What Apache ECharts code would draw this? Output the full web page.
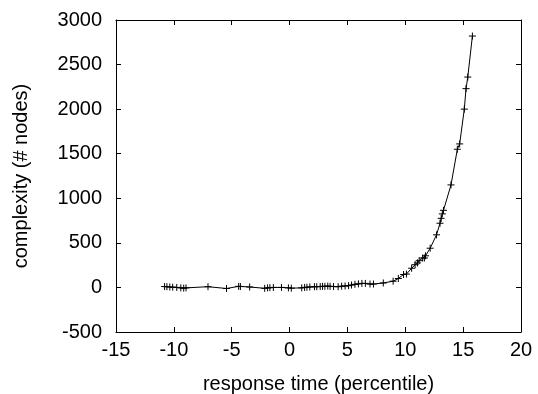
<!DOCTYPE html>
<html><head><meta charset="utf-8">
<script src="https://cdn.jsdelivr.net/npm/echarts@6/dist/echarts.min.js"></script>
<style>html,body{margin:0;padding:0;background:#fff}#c{width:538px;height:394px}</style>
</head><body><div id="c"></div>
<script>
const xValues = [-10.8,-10.6,-10.35,-10.1,-9.75,-9.4,-9.15,-8.95,-7.05,-5.45,-4.4,-4.25,-3.45,-2.15,-1.9,-1.7,-1.4,-0.7,-0.1,0.15,1.05,1.3,1.5,1.75,2.15,2.35,2.65,2.85,3.05,3.3,3.5,3.8,4.2,4.5,4.8,5.1,5.35,5.65,5.95,6.25,6.55,6.95,7.25,8.1,8.95,9.4,9.85,10.1,10.55,10.85,11.05,11.2,11.5,11.65,11.75,12.15,12.7,13.0,13.1,13.2,13.3,13.95,14.5,14.7,15.1,15.25,15.4,15.8];
const yValues = [10,8,5,3,0,-5,-8,-5,8,-12,12,10,5,-10,-5,-3,0,0,-5,-8,-5,0,2,5,8,8,10,12,12,15,12,10,8,14,16,20,27,35,40,45,45,38,38,50,70,100,145,150,215,255,275,300,330,330,355,440,590,720,775,825,865,1150,1550,1610,2000,2230,2360,2820];
const xTicks = {min:-15, max:20, interval:5};
const yTicks = {min:-500, max:3000, interval:500};
const xName = 'response time (percentile)';
const yName = 'complexity (# nodes)';

const points = xValues.map((x,i)=>[x,yValues[i]]);
const font = 'Liberation Sans, Arial, sans-serif';
const fs = 20;
const plain = v => String(v);
const common = {axisLine:{show:true,onZero:false,lineStyle:{color:'#000',width:1}},axisTick:{show:true,inside:true,length:5,lineStyle:{color:'#000'}},splitLine:{show:false}};
const chart = echarts.init(document.getElementById('c'));
chart.setOption({
  animation:false,
  backgroundColor:'#fff',
  grid:{left:116,right:17,top:20,bottom:62,show:false,containLabel:false,outerBoundsMode:'none'},
  xAxis:[
    Object.assign({type:'value',position:'bottom',min:xTicks.min,max:xTicks.max,interval:xTicks.interval,
      name:xName,nameLocation:'middle',nameGap:42,nameTextStyle:{fontFamily:font,fontSize:fs,color:'#000'},
      axisLabel:{fontFamily:font,fontSize:fs,color:'#000',margin:8,formatter:plain}},common),
    Object.assign({type:'value',position:'top',min:xTicks.min,max:xTicks.max,interval:xTicks.interval,axisLabel:{show:false}},common)
  ],
  yAxis:[
    Object.assign({type:'value',position:'left',min:yTicks.min,max:yTicks.max,interval:yTicks.interval,
      name:yName,nameLocation:'middle',nameGap:85,nameTextStyle:{fontFamily:font,fontSize:fs,color:'#000'},
      axisLabel:{fontFamily:font,fontSize:fs,color:'#000',margin:14,formatter:plain}},common),
    Object.assign({type:'value',position:'right',min:yTicks.min,max:yTicks.max,interval:yTicks.interval,axisLabel:{show:false}},common)
  ],
  series:[{
    type:'line',data:points,xAxisIndex:0,yAxisIndex:0,
    lineStyle:{color:'#000',width:1},
    symbol:'path://M0,5L10,5M5,0L5,10',symbolSize:7,showSymbol:true,
    itemStyle:{color:'none',borderColor:'#000',borderWidth:1}
  }]
});
</script></body></html>
